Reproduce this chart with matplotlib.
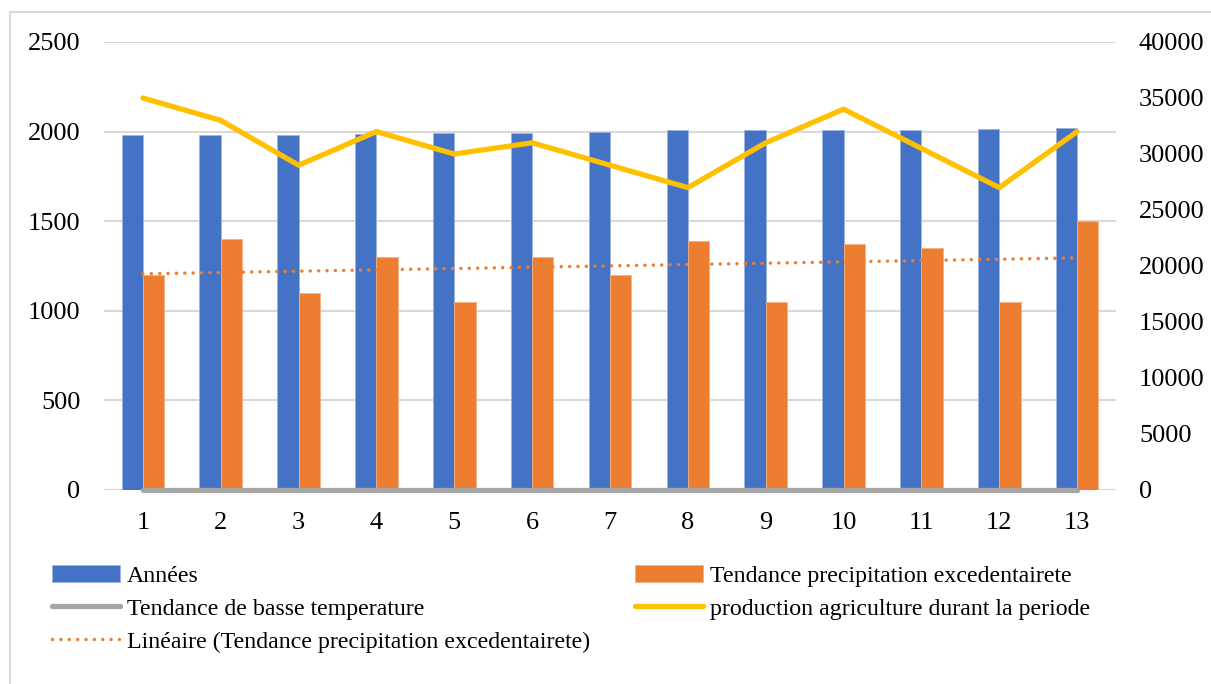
import numpy as np
import matplotlib
matplotlib.use("Agg")
import matplotlib.pyplot as plt
from matplotlib.lines import Line2D

plt.rcParams['font.family'] = ['Liberation Serif', 'DejaVu Serif']

categories = [str(i) for i in range(1, 14)]
annees = [1980, 1982, 1983, 1985, 1993, 1994, 1995, 2008, 2009, 2010, 2011, 2015, 2020]
precip = [1200, 1400, 1100, 1300, 1050, 1300, 1200, 1390, 1050, 1370, 1350, 1050, 1500]
basse_temp = [0] * 13
production = [35000, 33000, 29000, 32000, 30000, 31000, 29000, 27000, 31000, 34000, 30500, 27000, 32000]

left_ticks = [0, 500, 1000, 1500, 2000, 2500]
right_ticks = [0, 5000, 10000, 15000, 20000, 25000, 30000, 35000, 40000]

BLUE = '#4472C4'
ORANGE = '#ED7D31'
GRAY = '#A5A5A5'
YELLOW = '#FFC000'
GRID = '#D9D9D9'
FS = 19
LFS = 17.2

W, H = 1211, 684
fig = plt.figure(figsize=(W / 100, H / 100), dpi=100)
ax = fig.add_axes([104 / W, 1 - 490 / H, (1116 - 104) / W, (490 - 42) / H])
ax2 = ax.twinx()

x = np.arange(1, 14)
bw = 0.274
ax.bar(x - bw / 2, annees, bw, color=BLUE, edgecolor='#9DB3E0', linewidth=0.6, zorder=2, label='Années')
ax.bar(x + bw / 2, precip, bw, color=ORANGE, edgecolor='#F4B183', linewidth=0.6, zorder=2,
       label='Tendance precipitation excedentairete')
ax.plot(x, basse_temp, color=GRAY, lw=3.8, solid_capstyle='round', zorder=3, clip_on=False,
        label='Tendance de basse temperature')
coef = np.polyfit(x, precip, 1)
trend = np.polyval(coef, x)
ax.plot(x, trend, color=ORANGE, lw=2.5, linestyle=(0, (0.01, 2.4)), dash_capstyle='round', zorder=3,
        label='Linéaire (Tendance precipitation excedentairete)')

ax2.plot(x, production, color=YELLOW, lw=3.8, solid_capstyle='round', solid_joinstyle='miter', zorder=4,
         label='production agriculture durant la periode')

ax.set_xlim(0.5, 13.5)
ax.set_ylim(0, 2500)
ax2.set_ylim(0, 40000)
ax.set_yticks(left_ticks)
ax2.set_yticks(right_ticks)
ax.set_xticks(x)
ax.set_xticklabels(categories)
ax.yaxis.grid(True, color=GRID, lw=1.5, zorder=0)
ax.set_axisbelow(True)
for a in (ax, ax2):
    for s in a.spines.values():
        s.set_visible(False)
ax.tick_params(axis='both', length=0, labelsize=FS)
ax.tick_params(axis='y', pad=17)
ax.tick_params(axis='x', pad=16)
ax2.tick_params(axis='y', length=0, labelsize=FS, pad=16.5)

h1, l1 = ax.get_legend_handles_labels()
h2, l2 = ax2.get_legend_handles_labels()
hd = dict(zip(l1 + l2, h1 + h2))
order = ['Années', 'Tendance de basse temperature', 'Linéaire (Tendance precipitation excedentairete)',
         'Tendance precipitation excedentairete', 'production agriculture durant la periode']
fig.legend([hd[k] for k in order], order, ncol=2, loc='upper left',
           bbox_to_anchor=(52 / W, 1 - 565 / H), bbox_transform=fig.transFigure,
           frameon=False, fontsize=LFS, handlelength=2.85, handletextpad=0.3,
           columnspacing=1.85, labelspacing=0.47, borderpad=0, borderaxespad=0)

fig.add_artist(Line2D([10 / W, 10 / W], [0, 1 - 12 / H], transform=fig.transFigure, color=GRID, lw=1.5))
fig.add_artist(Line2D([10 / W, 1], [1 - 12 / H, 1 - 12 / H], transform=fig.transFigure, color=GRID, lw=1.5))

fig.savefig('out.png', dpi=100)
